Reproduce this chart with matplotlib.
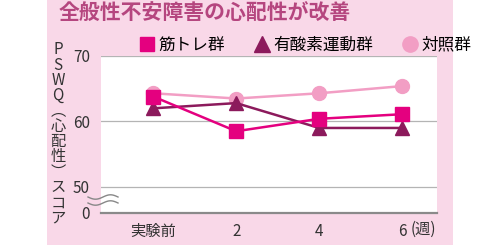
import numpy as np
import matplotlib
matplotlib.use("Agg")
import matplotlib.pyplot as plt
from matplotlib.lines import Line2D
from matplotlib.patches import Rectangle

plt.rcParams["font.family"] = ["Noto Sans CJK JP", "DejaVu Sans"]

# data (PSWQ scores)
weeks = ["実験前", "2", "4", "6"]
muscle = [63.8, 58.5, 60.4, 61.1]      # 筋トレ群
aerobic = [62.0, 62.8, 59.0, 59.0]     # 有酸素運動群
control = [64.3, 63.5, 64.3, 65.4]     # 対照群
y_ticks = [46, 50, 60, 70]
y_tick_labels = ["0", "50", "60", "70"]

C_MUSCLE = "#e4007f"
C_AEROBIC = "#8c1a5c"
C_CONTROL = "#f29ec4"
BG = "#f9d8e8"

W, H = 500, 245
fig = plt.figure(figsize=(W / 100, H / 100), dpi=100)
fig.patch.set_facecolor("white")
fig.patches.append(Rectangle((47 / W, 0), 406 / W, 1, transform=fig.transFigure,
                             facecolor=BG, edgecolor="none", zorder=-5))

fig.text(59 / W, 1 - 13 / H, "全般性不安障害の心配性が改善", fontsize=15,
         color="#b5467f", fontweight="bold", va="center", ha="left")

ax = fig.add_axes([101 / W, 1 - 213 / H, 336 / W, 157 / H])
ax.set_zorder(1)
ax.set_facecolor("white")
x = np.arange(len(weeks))

ax.plot(x, control, color=C_CONTROL, lw=1.8, marker="o", ms=10, zorder=3)
ax.plot(x, aerobic, color=C_AEROBIC, lw=1.8, marker="^", ms=10.5, zorder=4)
ax.plot(x, muscle, color=C_MUSCLE, lw=1.8, marker="s", ms=10, zorder=5)

ax.set_xlim(-0.63, 3.42)
ax.set_ylim(46, 70)
for v in [50, 60, 70]:
    ax.axhline(v, color="#b4b4b4", lw=0.9, zorder=1)
ax.axhline(46, color="#8a8a8a", lw=1.6, zorder=2, clip_on=False)
for s in ax.spines.values():
    s.set_visible(False)

ax.set_yticks(y_ticks)
ax.set_yticklabels(y_tick_labels, fontsize=11, color="#333333")
ax.set_xticks(x)
ax.set_xticklabels(weeks, fontsize=11, color="#333333")
ax.tick_params(length=0, pad=7)
ax.tick_params(axis="y", pad=8)
ax.text(3.1, -0.105, "(週)", transform=ax.get_xaxis_transform(), fontsize=11,
        color="#333333", va="center", ha="left")

# wavy break mark on the y axis
t = np.linspace(0, 1, 60)
for yy in [197, 203]:
    xs = (88 + 30 * t) / W
    ys = 1 - (yy + 2.2 * np.sin(t * 2 * np.pi)) / H
    fig.add_artist(Line2D(xs, ys, color="#888888", lw=1.0, transform=fig.transFigure, zorder=3))

# vertical y label (stacked characters, one text object)
ylabel_chars = ["P", "S", "W", "Q", "︵", "心", "配", "性", "︶", "ス", "コ", "ア"]
fig.text(58 / W, 1 - 134 / H, "\n".join(ylabel_chars), fontsize=11, color="#333333",
         ha="center", va="center", multialignment="center", linespacing=0.87)

# legend
handles = [
    Line2D([], [], ls="none", marker="s", ms=10, color=C_MUSCLE),
    Line2D([], [], ls="none", marker="^", ms=11, color=C_AEROBIC),
    Line2D([], [], ls="none", marker="o", ms=11, color=C_CONTROL),
]
fig.legend(handles, ["筋トレ群", "有酸素運動群", "対照群"], loc="center left",
           bbox_to_anchor=(140 / W, 1 - 45 / H), ncol=3, frameon=False,
           fontsize=12, handlelength=0.8, handletextpad=0.3, columnspacing=1.8,
           borderaxespad=0, borderpad=0)

fig.savefig("out.png", dpi=100, facecolor=fig.get_facecolor())
